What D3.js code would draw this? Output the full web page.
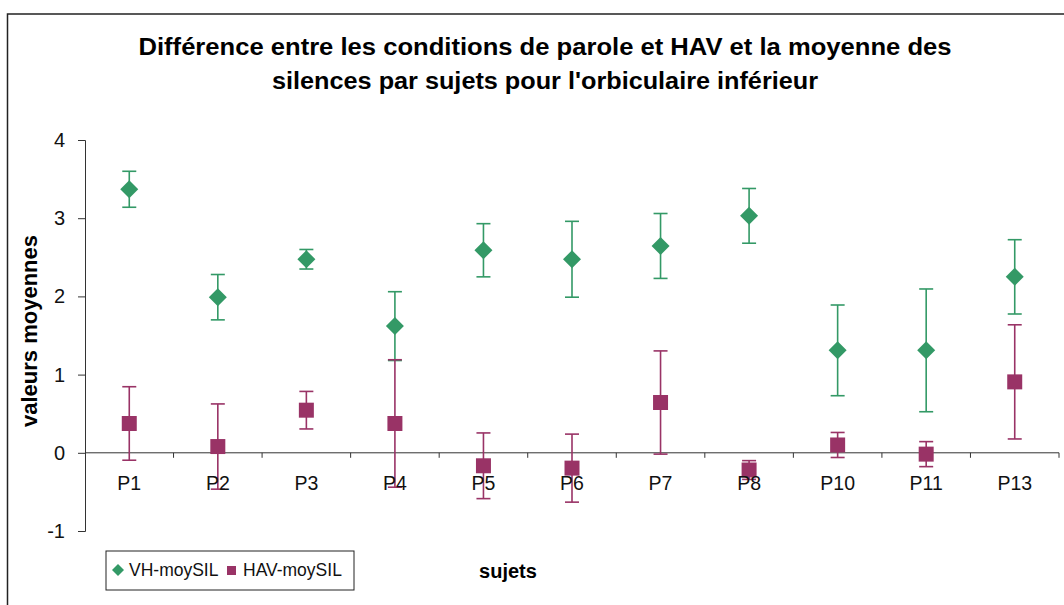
<!DOCTYPE html>
<html>
<head>
<meta charset="utf-8">
<script src="https://cdn.jsdelivr.net/npm/d3@7"></script>
<style>
  html, body { margin: 0; padding: 0; background: #fff; }
  svg { display: block; font-family: "Liberation Sans", Arial, sans-serif; }
</style>
</head>
<body>
<svg id="chart" width="1064" height="605"></svg>
<script>
// --- data ---
const subjects = ["P1", "P2", "P3", "P4", "P5", "P6", "P7", "P8", "P10", "P11", "P13"];
const vhMean = [3.37, 1.99, 2.475, 1.62, 2.59, 2.475, 2.645, 3.03, 1.31, 1.31, 2.25];
const vhErr  = [0.23, 0.29, 0.125, 0.44, 0.34, 0.485, 0.415, 0.35, 0.58, 0.785, 0.475];
const havMean = [0.375, 0.08, 0.545, 0.375, -0.166, -0.196, 0.643, -0.22, 0.10, -0.017, 0.907];
const havErr  = [0.47, 0.545, 0.24, 0.815, 0.42, 0.435, 0.66, 0.12, 0.16, 0.16, 0.73];
const yTicks = [-1, 0, 1, 2, 3, 4];
const seriesNames = ["VH-moySIL", "HAV-moySIL"];
const titleLines = [
  "Différence entre les conditions de parole et HAV et la moyenne des",
  "silences par sujets pour l'orbiculaire inférieur"
];

const GREEN = "#339966", MAROON = "#993366";

const svg = d3.select("#chart");

// outer frame (chart area border)
svg.append("path")
  .attr("d", "M7.5,605 V14 H1064")
  .attr("fill", "none").attr("stroke", "#222").attr("stroke-width", 1.5);

// title - widths matched to the reference lines
const titleW = [813, 546];
titleLines.forEach((t, i) => {
  svg.append("text")
    .attr("x", 545 - titleW[i] / 2).attr("y", 55 + i * 34)
    .attr("textLength", titleW[i]).attr("lengthAdjust", "spacingAndGlyphs")
    .style("font-weight", "bold").style("font-size", "23px")
    .text(t);
});

// scales
const x = d3.scaleBand().domain(subjects).range([85, 1059]);
const y = d3.scaleLinear().domain([-1, 4]).range([531, 140]);

// y axis
const yAxis = svg.append("g").attr("transform", "translate(85,0)")
  .call(d3.axisLeft(y).tickValues(yTicks).tickSize(7).tickPadding(13).tickFormat(d => String(d)));
yAxis.select(".domain").attr("stroke", "#333");
yAxis.selectAll(".tick line").attr("stroke", "#333");
yAxis.selectAll(".tick text")
  .style("font-size", "20px").attr("fill", "#111")
  .attr("font-family", "Liberation Sans, Arial, sans-serif");

// x axis at zero with ticks between categories
const xg = svg.append("g");
xg.append("line")
  .attr("x1", x.range()[0]).attr("x2", x.range()[1])
  .attr("y1", y(0)).attr("y2", y(0))
  .attr("stroke", "#333");
xg.selectAll("line.xt")
  .data(subjects)
  .join("line").attr("class", "xt")
  .attr("x1", d => x(d) + x.bandwidth())
  .attr("x2", d => x(d) + x.bandwidth())
  .attr("y1", y(0)).attr("y2", y(0) + 5)
  .attr("stroke", "#333");

// axis titles
svg.append("text")
  .attr("transform", "translate(37,331) rotate(-90)")
  .attr("text-anchor", "middle")
  .style("font-weight", "bold").style("font-size", "22px")
  .text("valeurs moyennes");
svg.append("text")
  .attr("x", 508).attr("y", 578)
  .attr("text-anchor", "middle")
  .style("font-weight", "bold").style("font-size", "20px")
  .text("sujets");

// error bars + markers
function drawSeries(means, errs, color, shape) {
  const rows = subjects.map((s, i) => ({ s, m: means[i], e: errs[i] }));
  const g = svg.append("g");
  const cx = d => x(d.s) + x.bandwidth() / 2;
  g.selectAll("line.bar").data(rows).join("line").attr("class", "bar")
    .attr("x1", cx).attr("x2", cx)
    .attr("y1", d => y(d.m + d.e)).attr("y2", d => y(d.m - d.e))
    .attr("stroke", color).attr("stroke-width", 1.6);
  [1, -1].forEach(sg => {
    g.selectAll("line.cap" + sg).data(rows).join("line")
      .attr("x1", d => cx(d) - 7).attr("x2", d => cx(d) + 7)
      .attr("y1", d => y(d.m + sg * d.e)).attr("y2", d => y(d.m + sg * d.e))
      .attr("stroke", color).attr("stroke-width", 1.6);
  });
  g.selectAll("path.mk").data(rows).join("path")
    .attr("transform", d => `translate(${cx(d)},${y(d.m)})`)
    .attr("d", shape)
    .attr("fill", color);
}
const diamond = "M0,-9 L9,0 L0,9 L-9,0 Z";
const square = "M-7.5,-7.5 H7.5 V7.5 H-7.5 Z";
drawSeries(vhMean, vhErr, GREEN, diamond);
drawSeries(havMean, havErr, MAROON, square);

// category labels on top of marks
svg.append("g").selectAll("text").data(subjects).join("text")
  .attr("x", d => x(d) + x.bandwidth() / 2)
  .attr("y", 490)
  .attr("text-anchor", "middle")
  .style("font-size", "19.5px").attr("fill", "#111")
  .text(d => d);

// legend
const lg = svg.append("g");
lg.append("rect").attr("x", 106).attr("y", 551).attr("width", 248).attr("height", 39)
  .attr("fill", "#fff").attr("stroke", "#222").attr("stroke-width", 1);
lg.append("path").attr("transform", "translate(118,570)")
  .attr("d", "M0,-6 L6,0 L0,6 L-6,0 Z").attr("fill", GREEN);
lg.append("text").attr("x", 129).attr("y", 576).style("font-size", "17.5px")
  .attr("fill", "#111").text(seriesNames[0]);
lg.append("rect").attr("x", 227).attr("y", 566).attr("width", 9).attr("height", 9)
  .attr("fill", MAROON);
lg.append("text").attr("x", 243).attr("y", 576).style("font-size", "17.5px")
  .attr("fill", "#111").text(seriesNames[1]);
</script>
</body>
</html>
